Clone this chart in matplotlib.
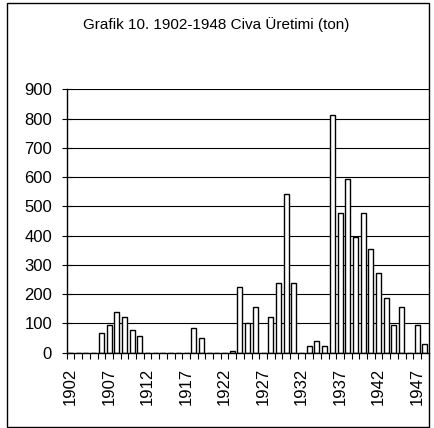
import matplotlib
matplotlib.use("Agg")
import matplotlib.pyplot as plt
from matplotlib.patches import Rectangle
import numpy as np

plt.rcParams['font.family'] = ['Liberation Sans', 'DejaVu Sans']

years = list(range(1902, 1949))
values = [0, 0, 0, 0, 68, 95, 140, 123, 77, 57,
          0, 0, 0, 0, 0, 0, 84, 50, 0, 0,
          0, 6, 224, 103, 157, 0, 123, 238, 541, 238,
          0, 22, 41, 22, 813, 478, 592, 395, 478, 355,
          271, 186, 95, 157, 0, 95, 29]
label_years = [1902, 1907, 1912, 1917, 1922, 1927, 1932, 1937, 1942, 1947]
yticks = [0, 100, 200, 300, 400, 500, 600, 700, 800, 900]
title = "Grafik 10. 1902-1948 Civa Üretimi (ton)"

fig = plt.figure(figsize=(4.35, 4.28), dpi=100)
ax = fig.add_axes([66.7/435, 75.3/428, (428.6-66.7)/435, (352.7-89.3)/428])

x = np.arange(len(years))
for v in yticks[1:]:
    ax.axhline(v, color='black', linewidth=0.8, zorder=1)
ax.bar(x, values, width=0.65, color='white', edgecolor='black', linewidth=1.0, zorder=3)

ax.set_xlim(-0.5, len(years) - 0.5)
ax.set_ylim(0, 900)
ax.set_yticks(yticks)
ax.set_yticklabels([str(v) for v in yticks], fontsize=12)

pos = [years.index(y) for y in label_years]
ax.set_xticks(pos)
ax.set_xticklabels([str(y) for y in label_years], rotation=90, fontsize=12, va='top', ha='center')
ax.tick_params(axis='x', which='major', length=0, pad=11)
ax.set_xticks(np.arange(-0.5, len(years)), minor=True)
ax.tick_params(axis='x', which='minor', length=4, width=0.8, direction='out')
ax.tick_params(axis='y', which='major', length=7, width=0.8, direction='inout', pad=7)

for s in ['top', 'right']:
    ax.spines[s].set_visible(False)
ax.spines['left'].set_linewidth(1.0)
ax.spines['bottom'].set_linewidth(1.0)
ax.spines['left'].set_zorder(4)
ax.spines['bottom'].set_zorder(4)

fig.text(216/435, 1 - 25/428, title, ha='center', va='center', fontsize=11)

fig.patches.append(Rectangle((7/435, 1/428), (429-7)/435, (427-3)/428, transform=fig.transFigure,
                             fill=False, edgecolor='black', linewidth=1.0))

fig.savefig("out.png", dpi=100)
